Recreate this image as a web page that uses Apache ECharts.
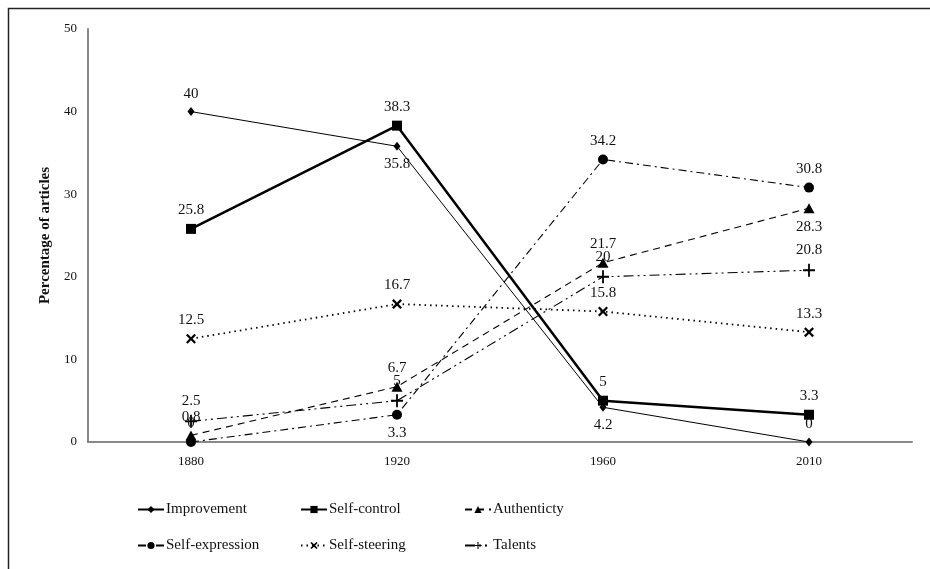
<!DOCTYPE html>
<html><head><meta charset="utf-8">
<script src="https://cdn.jsdelivr.net/npm/echarts@6/dist/echarts.min.js"></script>
<style>html,body{margin:0;padding:0;background:#fff}#c{width:930px;height:569px}</style>
</head><body><div id="c"></div>
<script>
// ---- data ----
const years = ['1880', '1920', '1960', '2010'];
const improvement    = [40, 35.8, 4.2, 0];
const selfControl    = [25.8, 38.3, 5, 3.3];
const authenticity   = [0.8, 6.7, 21.7, 28.3];
const selfExpression = [0, 3.3, 34.2, 30.8];
const selfSteering   = [12.5, 16.7, 15.8, 13.3];
const talents        = [2.5, 5, 20, 20.8];
const yMin = 0, yMax = 50, yStep = 10;
const yAxisTitle = 'Percentage of articles';

// ---- styling ----
const FONT = 'Liberation Serif';
const xPath = 'path://M0,1.6 L3.4,5 L5,3.4 L1.6,0 L5,-3.4 L3.4,-5 L0,-1.6 L-3.4,-5 L-5,-3.4 L-1.6,0 L-5,3.4 L-3.4,5 Z';
const plusPath = 'path://M-0.9,-6 L0.9,-6 L0.9,-0.9 L6,-0.9 L6,0.9 L0.9,0.9 L0.9,6 L-0.9,6 L-0.9,0.9 L-6,0.9 L-6,-0.9 L-0.9,-0.9 Z';

const defs = [
  {name: 'Improvement', data: improvement, symbol: 'diamond', size: [7, 9], width: 1, type: 'solid', below: [1, 2], z: 3},
  {name: 'Self-control', data: selfControl, symbol: 'rect', size: 10, width: 2.5, type: 'solid', below: [], z: 6},
  {name: 'Authenticty', data: authenticity, symbol: 'triangle', size: [11, 10], width: 1.1, type: [7, 5], below: [3], z: 4},
  {name: 'Self-expression', data: selfExpression, symbol: 'circle', size: 10, width: 1.1, type: [8, 4, 2, 4], below: [1], z: 4},
  {name: 'Self-steering', data: selfSteering, symbol: xPath, size: 10, width: 1.8, type: [1.5, 4], below: [], z: 4},
  {name: 'Talents', data: talents, symbol: plusPath, size: [12, 13], width: 1.1, type: [10, 4, 2, 4, 2, 4], below: [], z: 4}
];

const series = defs.map(d => ({
  name: d.name,
  type: 'line',
  z: d.z,
  symbol: d.symbol,
  symbolSize: d.size,
  showAllSymbol: true,
  itemStyle: {color: '#000'},
  lineStyle: {color: '#000', width: d.width, type: d.type},
  label: {show: true, position: 'top', distance: 6, color: '#111', fontFamily: FONT, fontSize: 15},
  emphasis: {disabled: true},
  animation: false,
  data: d.data.map((v, i) => d.below.includes(i)
      ? {value: v, label: {position: 'bottom', distance: 6}}
      : v)
}));

const legendPos = [
  [137, 502], [300, 502], [464, 502],
  [137, 538], [300, 538], [464, 538]
];
const legends = defs.map((d, i) => ({
  data: [d.name],
  left: legendPos[i][0], top: legendPos[i][1],
  padding: 0,
  itemWidth: 26, itemHeight: 9, itemGap: 0,
  textStyle: {fontFamily: FONT, fontSize: 15, color: '#111', padding: [0, 0, 0, -3]},
  selectedMode: false
}));

const chart = echarts.init(document.getElementById('c'), null, {renderer: 'canvas'});
chart.setOption({
  animation: false,
  backgroundColor: '#fff',
  grid: {left: 88, right: 18, top: 29, bottom: 127},
  legend: legends,
  xAxis: {
    type: 'category', data: years, boundaryGap: true,
    axisLine: {lineStyle: {color: '#888', width: 2}},
    axisTick: {show: false},
    axisLabel: {fontFamily: FONT, fontSize: 13, color: '#111', margin: 13},
    splitLine: {show: false}
  },
  yAxis: {
    type: 'value', min: yMin, max: yMax, interval: yStep,
    name: yAxisTitle, nameLocation: 'middle', nameRotate: 90, nameGap: 35,
    nameTextStyle: {fontFamily: FONT, fontSize: 15, fontWeight: 'bold', color: '#111'},
    axisLine: {show: true, lineStyle: {color: '#888', width: 2}},
    axisTick: {show: false},
    axisLabel: {fontFamily: FONT, fontSize: 13, color: '#111', margin: 11},
    splitLine: {show: false}
  },
  graphic: [
    {type: 'polyline', silent: true, shape: {points: [[8.5, 569], [8.5, 8.5], [930, 8.5]]},
     style: {stroke: '#222', lineWidth: 1.5, fill: null}}
  ],
  series: series
});
</script>
</body></html>
